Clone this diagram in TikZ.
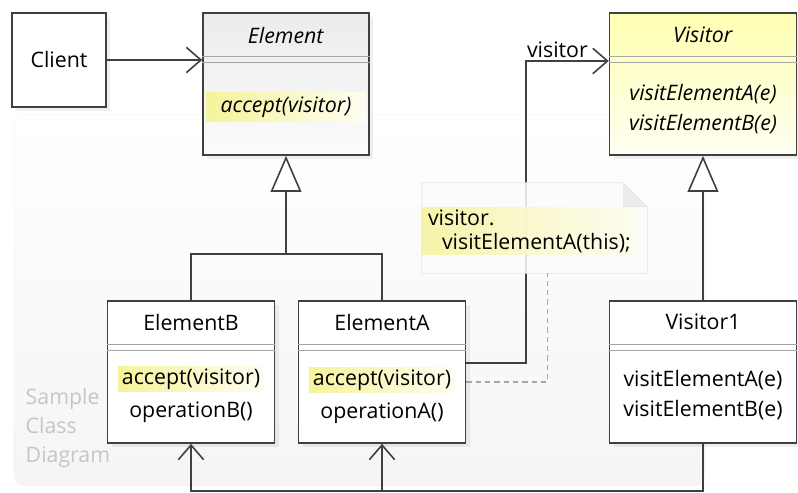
\documentclass[tikz,border=0pt]{standalone}
\usepackage{fontspec}
\setmainfont{Open Sans}
\usepackage{tikz}
\usetikzlibrary{positioning,calc,arrows.meta,shadows}

\definecolor{linegray}{HTML}{404040}
\definecolor{hlyellow}{HTML}{F6F39C}

\begin{document}
\begin{tikzpicture}[x=0.75pt, y=-0.75pt,
    font=\fontsize{16}{22}\selectfont,
    umlclass/.style={draw=linegray, line width=1.2pt, fill=white, rectangle,
      drop shadow={shadow xshift=3pt, shadow yshift=-3pt, opacity=0.12}},
    sepline/.style={draw=gray!70, line width=0.8pt},
    hl/.style={left color=hlyellow, right color=hlyellow!15!white, inner xsep=3pt, inner ysep=1.5pt},
    assoc/.style={draw=linegray, line width=1.2pt, -{Straight Barb[length=11pt,width=19pt]}},
    inherit/.style={draw=linegray, line width=1.2pt, -{Triangle[length=27pt,width=23pt,fill=white]}},
    notelink/.style={draw=gray!70, line width=0.8pt, dash pattern=on 4pt off 3pt}]
    \useasboundingbox (0,0) rectangle (798,492);

    % Sample frame
    \draw[gray!8, top color=white, bottom color=gray!8, rounded corners=8pt] (14,115) rectangle (705,486);
    \node[anchor=west, align=left, text=gray!45] (caption) at (21,428) {Sample\\Class\\Diagram};

    % Classes
    \node[umlclass, minimum width=70.5pt, minimum height=70.5pt] (client) at (59,60) {Client};
    \node[umlclass, top color=gray!15, bottom color=gray!3, minimum width=124.5pt, minimum height=106.5pt] (elem) at (286,84) {};
    \node[umlclass, top color=yellow!30, bottom color=yellow!5, minimum width=140.25pt, minimum height=106.5pt] (visitor) at (703,84) {};
    \node[umlclass, minimum width=125.25pt, minimum height=106.5pt] (elemB) at (191,372) {};
    \node[umlclass, minimum width=125.25pt, minimum height=106.5pt] (elemA) at (382,372) {};
    \node[umlclass, minimum width=140.25pt, minimum height=106.5pt] (visitorOne) at (703,372) {};

    % compartments
    \foreach \c in {elem,visitor,elemB,elemA,visitorOne} {
        \draw[sepline] ($(\c.north west)+(0,44)$) -- ($(\c.north east)+(0,44)$);
        \draw[sepline] ($(\c.north west)+(0,50)$) -- ($(\c.north east)+(0,50)$);
    }

    % Names and operations
    \node (elemName) at ($(elem.north)+(0,23)$) {\textit{Element}};
    \node[hl, minimum width=120pt, minimum height=22pt] (elemOps) at ($(elem.north)+(0,95)$) {\textit{accept(visitor)}};

    \node (visitorName) at ($(visitor.north)+(0,23)$) {\textit{Visitor}};
    \node[align=center] (visitorOps) at ($(visitor.north)+(0,97)$) {\textit{visitElementA(e)}\\\textit{visitElementB(e)}};

    \node (elemBName) at ($(elemB.north)+(0,22)$) {ElementB};
    \node[hl] (elemBAccept) at ($(elemB.north)+(0,79)$) {accept(visitor)};
    \node (elemBOp) at ($(elemB.north)+(0,112)$) {operationB()};

    \node (elemAName) at ($(elemA.north)+(0,22)$) {ElementA};
    \node[hl] (elemAAccept) at ($(elemA.north)+(0,80)$) {accept(visitor)};
    \node (elemAOp) at ($(elemA.north)+(0,113)$) {operationA()};

    \node (visitorOneName) at ($(visitorOne.north)+(0,22)$) {Visitor1};
    \node[align=center] (visitorOneOps) at ($(visitorOne.north)+(0,95)$) {visitElementA(e)\\visitElementB(e)};

    % Client uses Element
    \draw[assoc] (client.east) -- (client.east -| elem.west);

    % Inheritance
    \coordinate (elemJoin) at ($(elem.south)+(0,98)$);
    \draw[linegray, line width=1.2pt] (elemB.north) |- (elemJoin) -| (elemA.north);
    \draw[inherit] (elemJoin) -- (elem.south);
    \draw[inherit] (visitorOne.north) -- (visitor.south);

    % ElementA -> Visitor
    \coordinate (visBend) at (526,61);
    \draw[assoc] ($(elemA.east)+(0,-9)$) -| (visBend) -- node[above, pos=0.38, inner sep=2pt] (visLabel) {visitor} (visitor.west |- visBend);

    % Visitor1 -> ElementB, ElementA
    \coordinate (bottomLine) at ($(visitorOne.south)+(0,47)$);
    \draw[assoc] (visitorOne.south) |- (bottomLine -| elemB.south) -- (elemB.south);
    \draw[assoc] (bottomLine -| elemA.south) -- (elemA.south);

    % Note
    \node[minimum width=168.75pt, minimum height=67.5pt] (note) at (534.5,228) {};
    \filldraw[draw=gray!20, fill=gray!3, fill opacity=0.85] (note.north west) -- ($(note.north east)+(-24,0)$) -- ($(note.north east)+(0,24)$) -- (note.south east) -- (note.south west) -- cycle;
    \filldraw[draw=gray!20, fill=gray!15] ($(note.north east)+(-24,0)$) -- ($(note.north east)+(-24,24)$) -- ($(note.north east)+(0,24)$) -- cycle;
    \node[hl, fill opacity=0.85, text opacity=1, align=left, anchor=west, inner xsep=4.5pt] (noteText) at ($(note.west)+(0,3)$) {visitor.\\[-4pt]\hspace*{10.5pt}visitElementA(this);};
    \coordinate (noteLink) at ($(note.south)+(13,0)$);
    \draw[notelink] ($(elemA.east)+(0,10)$) -| (noteLink);
\end{tikzpicture}
\end{document}
